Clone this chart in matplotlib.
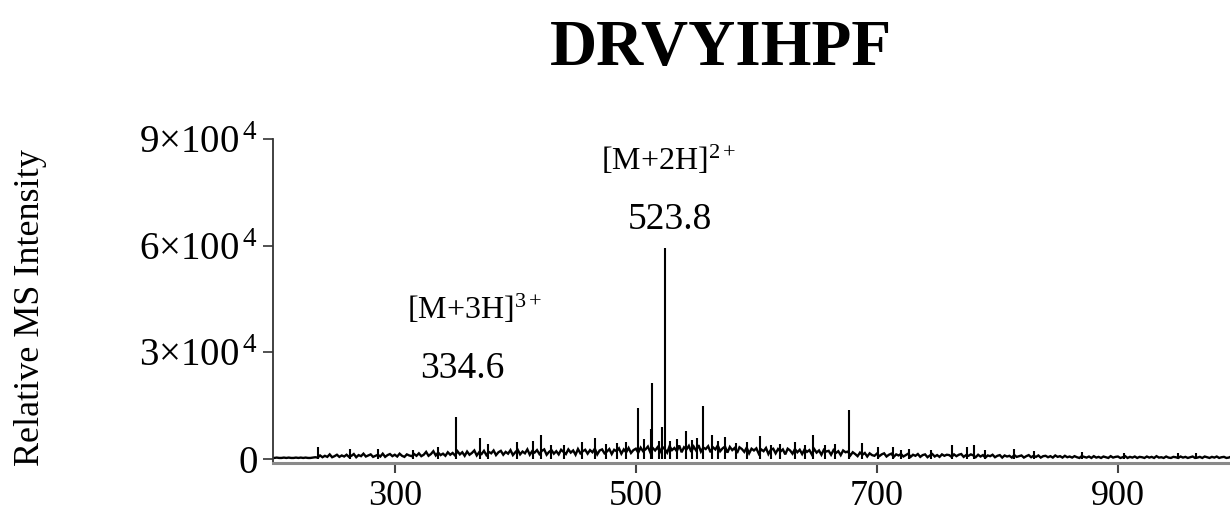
import numpy as np
import matplotlib
matplotlib.use("Agg")
import matplotlib.pyplot as plt

plt.rcParams['font.family'] = ['Liberation Serif', 'DejaVu Serif']
plt.rcParams['mathtext.fontset'] = 'custom'
plt.rcParams['mathtext.rm'] = 'Liberation Serif'
plt.rcParams['mathtext.it'] = 'Liberation Serif:italic'
plt.rcParams['mathtext.bf'] = 'Liberation Serif:bold'

# ---------------- data ----------------
title = "DRVYIHPF"
ylabel = "Relative MS Intensity"

# baseline noise profile, m/z 200..998 in steps of 2 (values in counts/100)
noise_start = 200
noise_step = 2
noise_int = [
    3,4,3,3,4,3,4,3,3,4,
    3,4,3,4,3,3,4,5,4,10,
    5,9,6,13,5,8,12,6,10,7,
    12,6,9,14,5,11,8,15,7,10,
    13,6,9,12,7,15,6,11,14,8,
    12,7,15,9,6,13,10,8,14,9,
    16,8,12,20,9,14,22,10,18,11,
    15,9,19,12,17,10,22,13,19,9,
    21,12,17,24,10,19,14,23,11,20,
    16,24,11,19,23,12,20,15,25,11,
    19,26,13,21,16,27,12,22,18,25,
    14,23,27,12,20,25,15,22,13,26,
    20,14,27,18,24,12,28,16,22,26,
    15,25,19,29,13,24,27,16,21,28,
    14,26,22,30,15,27,19,31,17,25,
    29,18,32,22,27,35,19,31,24,33,
    20,34,28,18,36,25,31,22,38,19,
    33,27,37,20,35,24,39,21,32,28,
    36,19,33,27,38,22,30,35,18,34,
    25,31,17,33,28,20,32,16,29,24,
    30,15,27,22,31,14,26,29,16,28,
    21,27,13,29,24,15,28,19,26,14,
    27,20,25,13,28,18,24,12,26,21,
    23,12,25,17,22,11,24,19,21,10,
    19,14,8,18,12,17,7,16,11,9,
    15,8,13,16,7,12,15,6,13,10,
    14,7,11,15,6,12,9,14,6,11,
    13,5,10,14,7,11,6,13,9,12,
    11,6,13,8,12,14,6,11,9,13,
    10,5,12,7,11,4,10,8,12,5,
    9,11,4,10,7,9,4,11,6,8,
    10,4,8,11,5,9,6,10,4,8,
    9,5,8,4,10,6,8,4,9,5,
    7,4,8,5,3,8,6,4,7,3,
    8,4,6,3,7,5,3,8,4,6,
    7,3,5,8,3,6,4,7,3,6,
    5,3,7,4,6,3,8,4,5,3,
    7,4,3,6,5,3,7,4,6,3,
    5,7,3,4,6,3,7,5,3,6,
    4,7,3,5,6,3,4,7,3,5,
]

# discrete spikes (m/z, counts)
peak_mz = [236, 263, 286, 315, 336, 350.6, 371, 377, 401, 415, 421, 430, 440,
           455, 466, 475, 484, 492, 501.7, 507, 512.4, 513.3, 519, 522, 523.8,
           528, 534, 542, 547, 551, 555.6, 563, 568, 574, 583, 592, 603, 612,
           620, 632, 640, 647, 657, 665, 676.8, 688, 701, 713, 720, 727, 745,
           762, 775, 781, 790, 814, 830, 870, 905, 950, 965]
peak_int = [3400, 2800, 2800, 2500, 3500, 11800, 5900, 4200, 4800, 5000, 6700,
            4000, 3800, 4800, 5900, 4200, 4500, 4800, 14300, 5600, 8400, 21300,
            5200, 9000, 59200, 5000, 5600, 8000, 5400, 6000, 14900, 6700, 5000,
            6200, 4500, 4800, 6500, 4000, 4200, 4800, 4000, 6700, 3800, 4200,
            13700, 4500, 3400, 3400, 2600, 2800, 2500, 3900, 3400, 3900, 2600,
            2800, 2200, 2000, 1800, 1600, 1800]

# peak annotations
ann_text = [r"[M+3H]$^{3+}$", "334.6", r"[M+2H]$^{2+}$", "523.8"]
ann_mz = [366, 356, 527, 528]
ann_y = [42000, 25300, 84000, 67300]
ann_size = [23, 27, 23, 27]

xticks = [300, 500, 700, 900]
yticks = [0, 30000, 60000, 90000]
yticklabels = ["0", r"3$\times$100$^{\,4}$", r"6$\times$100$^{\,4}$", r"9$\times$100$^{\,4}$"]

# ---------------- figure ----------------
fig = plt.figure(figsize=(12.3, 5.16), dpi=100)
ax = fig.add_axes([0.222, 0.1027, 0.778, 0.628])

noise_mz = noise_start + noise_step * np.arange(len(noise_int))
noise_counts = np.array(noise_int) * 100.0
ax.plot(noise_mz, noise_counts, color='black', lw=1.7, solid_joinstyle='miter')
ax.vlines(peak_mz, 0, peak_int, color='black', lw=1.5)

for t, xm, ym, fs in zip(ann_text, ann_mz, ann_y, ann_size):
    ax.text(xm, ym, t, ha='center', va='center', fontsize=fs)

ax.set_xlim(199, 993)
ax.set_ylim(-1124, 90000)

ax.set_xticks(xticks)
ax.set_xticklabels([str(v) for v in xticks], fontsize=26)
ax.set_yticks(yticks)
ax.set_yticklabels(yticklabels, fontsize=28)

for s in ['top', 'right']:
    ax.spines[s].set_visible(False)
ax.spines['left'].set_color('#333333')
ax.spines['left'].set_linewidth(1.3)
ax.spines['bottom'].set_color('#8a8a8a')
ax.spines['bottom'].set_linewidth(2.2)

ax.tick_params(axis='y', direction='out', length=7, width=1.2, color='#333333', pad=4)
ax.tick_params(axis='x', direction='out', length=7, width=1.5, color='#444444', pad=5)

fig.text(0.025, 0.403, ylabel, rotation=90, ha='center', va='center', fontsize=26)
fig.text(0.586, 0.905, title, ha='center', va='center', fontsize=47, fontweight='bold')

fig.savefig("out.png", dpi=100)
